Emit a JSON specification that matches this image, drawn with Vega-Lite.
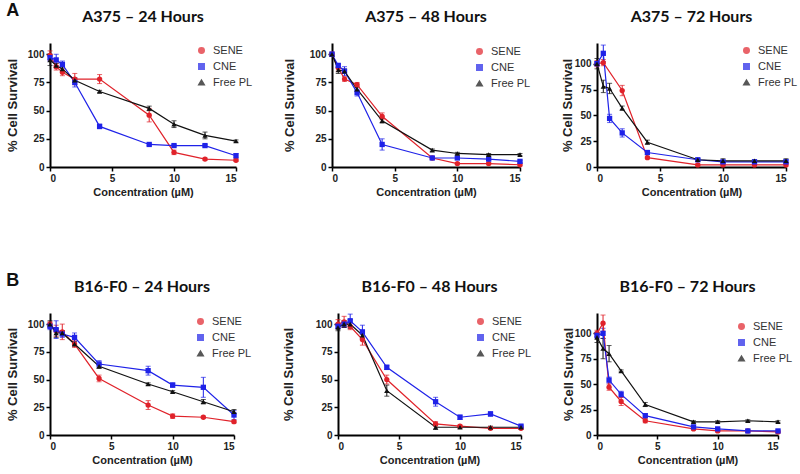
{
  "$schema": "https://vega.github.io/schema/vega-lite/v6.json",
  "padding": {"left": 6, "top": 2, "right": 2, "bottom": 2},
  "background": "white",
  "datasets": {
    "d": [
      {"p":"A24","g":"SENE","c":0,"s":99,"e":4},{"p":"A24","g":"SENE","c":0.5,"s":89,"e":3},{"p":"A24","g":"SENE","c":1,"s":84,"e":3},{"p":"A24","g":"SENE","c":2,"s":78,"e":5},{"p":"A24","g":"SENE","c":4,"s":78,"e":4},{"p":"A24","g":"SENE","c":8,"s":46,"e":6},{"p":"A24","g":"SENE","c":10,"s":13,"e":2},{"p":"A24","g":"SENE","c":12.5,"s":7,"e":1},{"p":"A24","g":"SENE","c":15,"s":6,"e":1},
      {"p":"A24","g":"CNE","c":0,"s":97,"e":3},{"p":"A24","g":"CNE","c":0.5,"s":95,"e":5},{"p":"A24","g":"CNE","c":1,"s":91,"e":3},{"p":"A24","g":"CNE","c":2,"s":75,"e":4},{"p":"A24","g":"CNE","c":4,"s":36,"e":2},{"p":"A24","g":"CNE","c":8,"s":20,"e":1},{"p":"A24","g":"CNE","c":10,"s":19,"e":1},{"p":"A24","g":"CNE","c":12.5,"s":19,"e":1},{"p":"A24","g":"CNE","c":15,"s":10,"e":2},
      {"p":"A24","g":"Free PL","c":0,"s":95,"e":5},{"p":"A24","g":"Free PL","c":0.5,"s":90,"e":2},{"p":"A24","g":"Free PL","c":1,"s":87,"e":2},{"p":"A24","g":"Free PL","c":2,"s":77,"e":2},{"p":"A24","g":"Free PL","c":4,"s":67,"e":1},{"p":"A24","g":"Free PL","c":8,"s":52,"e":2},{"p":"A24","g":"Free PL","c":10,"s":38,"e":3},{"p":"A24","g":"Free PL","c":12.5,"s":28,"e":3},{"p":"A24","g":"Free PL","c":15,"s":23,"e":1},

      {"p":"A48","g":"SENE","c":0,"s":100,"e":2},{"p":"A48","g":"SENE","c":0.5,"s":88,"e":3},{"p":"A48","g":"SENE","c":1,"s":78,"e":2},{"p":"A48","g":"SENE","c":2,"s":73,"e":2},{"p":"A48","g":"SENE","c":4,"s":45,"e":3},{"p":"A48","g":"SENE","c":8,"s":8,"e":1},{"p":"A48","g":"SENE","c":10,"s":3,"e":1},{"p":"A48","g":"SENE","c":12.5,"s":3,"e":1},{"p":"A48","g":"SENE","c":15,"s":2,"e":1},
      {"p":"A48","g":"CNE","c":0,"s":100,"e":2},{"p":"A48","g":"CNE","c":0.5,"s":90,"e":2},{"p":"A48","g":"CNE","c":1,"s":85,"e":4},{"p":"A48","g":"CNE","c":2,"s":66,"e":3},{"p":"A48","g":"CNE","c":4,"s":20,"e":5},{"p":"A48","g":"CNE","c":8,"s":8,"e":1},{"p":"A48","g":"CNE","c":10,"s":8,"e":1},{"p":"A48","g":"CNE","c":12.5,"s":7,"e":1},{"p":"A48","g":"CNE","c":15,"s":5,"e":1},
      {"p":"A48","g":"Free PL","c":0,"s":100,"e":1},{"p":"A48","g":"Free PL","c":0.5,"s":86,"e":3},{"p":"A48","g":"Free PL","c":1,"s":85,"e":2},{"p":"A48","g":"Free PL","c":2,"s":69,"e":2},{"p":"A48","g":"Free PL","c":4,"s":41,"e":2},{"p":"A48","g":"Free PL","c":8,"s":15,"e":1},{"p":"A48","g":"Free PL","c":10,"s":12,"e":1},{"p":"A48","g":"Free PL","c":12.5,"s":11,"e":1},{"p":"A48","g":"Free PL","c":15,"s":11,"e":1},

      {"p":"A72","g":"SENE","c":0,"s":100,"e":3},{"p":"A72","g":"SENE","c":0.5,"s":101,"e":3},{"p":"A72","g":"SENE","c":2,"s":74,"e":5},{"p":"A72","g":"SENE","c":4,"s":9,"e":1},{"p":"A72","g":"SENE","c":8,"s":2,"e":1},{"p":"A72","g":"SENE","c":10,"s":2,"e":1},{"p":"A72","g":"SENE","c":12.5,"s":2,"e":1},{"p":"A72","g":"SENE","c":15,"s":2,"e":1},
      {"p":"A72","g":"CNE","c":0,"s":100,"e":2},{"p":"A72","g":"CNE","c":0.5,"s":110,"e":8},{"p":"A72","g":"CNE","c":1,"s":47,"e":4},{"p":"A72","g":"CNE","c":2,"s":33,"e":4},{"p":"A72","g":"CNE","c":4,"s":14,"e":2},{"p":"A72","g":"CNE","c":8,"s":7,"e":1},{"p":"A72","g":"CNE","c":10,"s":5,"e":1},{"p":"A72","g":"CNE","c":12.5,"s":5,"e":1},{"p":"A72","g":"CNE","c":15,"s":5,"e":2},
      {"p":"A72","g":"Free PL","c":0,"s":100,"e":5},{"p":"A72","g":"Free PL","c":0.5,"s":78,"e":6},{"p":"A72","g":"Free PL","c":1,"s":76,"e":5},{"p":"A72","g":"Free PL","c":2,"s":57,"e":2},{"p":"A72","g":"Free PL","c":4,"s":24,"e":2},{"p":"A72","g":"Free PL","c":8,"s":7,"e":1},{"p":"A72","g":"Free PL","c":10,"s":6,"e":2},{"p":"A72","g":"Free PL","c":12.5,"s":6,"e":1},{"p":"A72","g":"Free PL","c":15,"s":6,"e":2},

      {"p":"B24","g":"SENE","c":0,"s":100,"e":2},{"p":"B24","g":"SENE","c":0.5,"s":94,"e":5},{"p":"B24","g":"SENE","c":1,"s":93,"e":7},{"p":"B24","g":"SENE","c":2,"s":82,"e":3},{"p":"B24","g":"SENE","c":4,"s":51,"e":3},{"p":"B24","g":"SENE","c":8,"s":27,"e":4},{"p":"B24","g":"SENE","c":10,"s":17,"e":2},{"p":"B24","g":"SENE","c":12.5,"s":16,"e":1},{"p":"B24","g":"SENE","c":15,"s":12,"e":1},
      {"p":"B24","g":"CNE","c":0,"s":98,"e":3},{"p":"B24","g":"CNE","c":0.5,"s":95,"e":8},{"p":"B24","g":"CNE","c":1,"s":91,"e":3},{"p":"B24","g":"CNE","c":2,"s":88,"e":4},{"p":"B24","g":"CNE","c":4,"s":64,"e":3},{"p":"B24","g":"CNE","c":8,"s":58,"e":4},{"p":"B24","g":"CNE","c":10,"s":45,"e":2},{"p":"B24","g":"CNE","c":12.5,"s":43,"e":9},{"p":"B24","g":"CNE","c":15,"s":18,"e":4},
      {"p":"B24","g":"Free PL","c":0,"s":100,"e":3},{"p":"B24","g":"Free PL","c":0.5,"s":92,"e":4},{"p":"B24","g":"Free PL","c":1,"s":92,"e":2},{"p":"B24","g":"Free PL","c":2,"s":82,"e":2},{"p":"B24","g":"Free PL","c":4,"s":62,"e":2},{"p":"B24","g":"Free PL","c":8,"s":46,"e":1},{"p":"B24","g":"Free PL","c":10,"s":39,"e":1},{"p":"B24","g":"Free PL","c":12.5,"s":30,"e":2},{"p":"B24","g":"Free PL","c":15,"s":21,"e":2},

      {"p":"B48","g":"SENE","c":0,"s":100,"e":4},{"p":"B48","g":"SENE","c":0.5,"s":102,"e":5},{"p":"B48","g":"SENE","c":1,"s":98,"e":3},{"p":"B48","g":"SENE","c":2,"s":86,"e":5},{"p":"B48","g":"SENE","c":4,"s":50,"e":4},{"p":"B48","g":"SENE","c":8,"s":10,"e":2},{"p":"B48","g":"SENE","c":10,"s":8,"e":1},{"p":"B48","g":"SENE","c":12.5,"s":6,"e":1},{"p":"B48","g":"SENE","c":15,"s":6,"e":1},
      {"p":"B48","g":"CNE","c":0,"s":98,"e":2},{"p":"B48","g":"CNE","c":0.5,"s":100,"e":3},{"p":"B48","g":"CNE","c":1,"s":103,"e":6},{"p":"B48","g":"CNE","c":2,"s":93,"e":6},{"p":"B48","g":"CNE","c":4,"s":61,"e":2},{"p":"B48","g":"CNE","c":8,"s":30,"e":4},{"p":"B48","g":"CNE","c":10,"s":16,"e":2},{"p":"B48","g":"CNE","c":12.5,"s":19,"e":2},{"p":"B48","g":"CNE","c":15,"s":8,"e":1},
      {"p":"B48","g":"Free PL","c":0,"s":97,"e":3},{"p":"B48","g":"Free PL","c":0.5,"s":100,"e":3},{"p":"B48","g":"Free PL","c":1,"s":100,"e":4},{"p":"B48","g":"Free PL","c":2,"s":90,"e":3},{"p":"B48","g":"Free PL","c":4,"s":40,"e":5},{"p":"B48","g":"Free PL","c":8,"s":7,"e":2},{"p":"B48","g":"Free PL","c":10,"s":7,"e":1},{"p":"B48","g":"Free PL","c":12.5,"s":7,"e":1},{"p":"B48","g":"Free PL","c":15,"s":7,"e":1},

      {"p":"B72","g":"SENE","c":0,"s":100,"e":3},{"p":"B72","g":"SENE","c":0.5,"s":110,"e":8},{"p":"B72","g":"SENE","c":1,"s":47,"e":3},{"p":"B72","g":"SENE","c":2,"s":33,"e":4},{"p":"B72","g":"SENE","c":4,"s":14,"e":2},{"p":"B72","g":"SENE","c":8,"s":6,"e":1},{"p":"B72","g":"SENE","c":10,"s":4,"e":1},{"p":"B72","g":"SENE","c":12.5,"s":4,"e":1},{"p":"B72","g":"SENE","c":15,"s":3,"e":1},
      {"p":"B72","g":"CNE","c":0,"s":98,"e":3},{"p":"B72","g":"CNE","c":0.5,"s":100,"e":5},{"p":"B72","g":"CNE","c":1,"s":54,"e":3},{"p":"B72","g":"CNE","c":2,"s":40,"e":3},{"p":"B72","g":"CNE","c":4,"s":19,"e":2},{"p":"B72","g":"CNE","c":8,"s":8,"e":1},{"p":"B72","g":"CNE","c":10,"s":6,"e":1},{"p":"B72","g":"CNE","c":12.5,"s":4,"e":1},{"p":"B72","g":"CNE","c":15,"s":4,"e":1},
      {"p":"B72","g":"Free PL","c":0,"s":96,"e":5},{"p":"B72","g":"Free PL","c":0.5,"s":85,"e":10},{"p":"B72","g":"Free PL","c":1,"s":80,"e":8},{"p":"B72","g":"Free PL","c":2,"s":63,"e":1},{"p":"B72","g":"Free PL","c":4,"s":30,"e":2},{"p":"B72","g":"Free PL","c":8,"s":13,"e":1},{"p":"B72","g":"Free PL","c":10,"s":13,"e":1},{"p":"B72","g":"Free PL","c":12.5,"s":14,"e":1},{"p":"B72","g":"Free PL","c":15,"s":13,"e":1}
    ]
  },
  "config": {
    "view": {"stroke": null},
    "axis": {"grid": false, "domainColor": "#000", "domainWidth": 2, "tickColor": "#000", "tickWidth": 1.5, "tickSize": 4, "labelFont": "Liberation Sans", "labelFontWeight": "bold", "labelFontSize": 10, "labelColor": "#222", "labelPadding": 2, "titleFont": "Liberation Sans", "titleFontWeight": "bold", "titleColor": "#222"},
    "axisY": {"titleFontSize": 13, "titlePadding": 8},
    "axisX": {"titleFontSize": 11, "titlePadding": 3},
    "title": {"font": "Lato", "fontSize": 16, "fontWeight": "bold", "color": "#111", "offset": 18},
    "legend": {"orient": "none", "labelFont": "Liberation Sans", "labelFontSize": 11, "labelColor": "#333", "symbolSize": 30, "rowPadding": 3, "padding": 0, "labelOffset": 6}
  },
  "vconcat": [
    {
      "title": {"text": "A", "anchor": "start", "fontSize": 18, "font": "Liberation Sans", "offset": -11},
      "spacing": 30,
      "resolve": {"scale": {"x": "independent", "y": "independent", "color": "independent", "shape": "independent"}, "legend": {"color": "independent", "shape": "independent"}},
      "hconcat": [
        {
          "title": "A375 – 24 Hours", "width": 186, "height": 124,
          "data": {"name": "d"}, "transform": [{"filter": "datum.p == 'A24'"}],
          "encoding": {
            "x": {"field": "c", "type": "quantitative", "scale": {"domain": [0, 15], "nice": false}, "axis": {"values": [0, 5, 10, 15], "title": "Concentration (µM)"}},
            "y": {"field": "s", "type": "quantitative", "scale": {"domain": [0, 110], "nice": false}, "axis": {"values": [0, 25, 50, 75, 100], "title": "% Cell Survival"}},
            "color": {"field": "g", "type": "nominal", "scale": {"domain": ["SENE", "CNE", "Free PL"], "range": ["#e0222a", "#1f22e8", "#111111"]}, "legend": {"title": null, "legendX": 146, "legendY": 2}}
          },
          "layer": [
            {"mark": {"type": "errorbar", "ticks": true, "thickness": 1}, "encoding": {"yError": {"field": "e"}}},
            {"mark": {"type": "line", "strokeWidth": 1.2, "clip": false, "point": {"filled": true, "size": 28}}, "encoding": {"shape": {"field": "g", "type": "nominal", "scale": {"domain": ["SENE", "CNE", "Free PL"], "range": ["circle", "square", "triangle-up"]}, "legend": null}}}
          ]
        },
        {
          "title": "A375 – 48 Hours", "width": 188, "height": 124,
          "data": {"name": "d"}, "transform": [{"filter": "datum.p == 'A48'"}],
          "encoding": {
            "x": {"field": "c", "type": "quantitative", "scale": {"domain": [0, 15], "nice": false}, "axis": {"values": [0, 5, 10, 15], "title": "Concentration (µM)"}},
            "y": {"field": "s", "type": "quantitative", "scale": {"domain": [0, 110], "nice": false}, "axis": {"values": [0, 25, 50, 75, 100], "title": "% Cell Survival", "titlePadding": 13}},
            "color": {"field": "g", "type": "nominal", "scale": {"domain": ["SENE", "CNE", "Free PL"], "range": ["#e0222a", "#1f22e8", "#111111"]}, "legend": {"title": null, "legendX": 142, "legendY": 3}}
          },
          "layer": [
            {"mark": {"type": "errorbar", "ticks": true, "thickness": 1}, "encoding": {"yError": {"field": "e"}}},
            {"mark": {"type": "line", "strokeWidth": 1.2, "clip": false, "point": {"filled": true, "size": 28}}, "encoding": {"shape": {"field": "g", "type": "nominal", "scale": {"domain": ["SENE", "CNE", "Free PL"], "range": ["circle", "square", "triangle-up"]}, "legend": null}}}
          ]
        },
        {
          "title": "A375 – 72 Hours", "width": 189, "height": 124,
          "data": {"name": "d"}, "transform": [{"filter": "datum.p == 'A72'"}],
          "encoding": {
            "x": {"field": "c", "type": "quantitative", "scale": {"domain": [0, 15], "nice": false}, "axis": {"values": [0, 5, 10, 15], "title": "Concentration (µM)"}},
            "y": {"field": "s", "type": "quantitative", "scale": {"domain": [0, 120], "nice": false}, "axis": {"values": [0, 25, 50, 75, 100], "title": "% Cell Survival", "titlePadding": 0}},
            "color": {"field": "g", "type": "nominal", "scale": {"domain": ["SENE", "CNE", "Free PL"], "range": ["#e0222a", "#1f22e8", "#111111"]}, "legend": {"title": null, "legendX": 144, "legendY": 2}}
          },
          "layer": [
            {"mark": {"type": "errorbar", "ticks": true, "thickness": 1}, "encoding": {"yError": {"field": "e"}}},
            {"mark": {"type": "line", "strokeWidth": 1.2, "clip": false, "point": {"filled": true, "size": 28}}, "encoding": {"shape": {"field": "g", "type": "nominal", "scale": {"domain": ["SENE", "CNE", "Free PL"], "range": ["circle", "square", "triangle-up"]}, "legend": null}}}
          ]
        }
      ]
    },
    {
      "title": {"text": "B", "anchor": "start", "fontSize": 18, "font": "Liberation Sans", "offset": -11},
      "spacing": 30,
      "resolve": {"scale": {"x": "independent", "y": "independent", "color": "independent", "shape": "independent"}, "legend": {"color": "independent", "shape": "independent"}},
      "hconcat": [
        {
          "title": "B16-F0 – 24 Hours", "width": 184, "height": 122,
          "data": {"name": "d"}, "transform": [{"filter": "datum.p == 'B24'"}],
          "encoding": {
            "x": {"field": "c", "type": "quantitative", "scale": {"domain": [0, 15], "nice": false}, "axis": {"values": [0, 5, 10, 15], "title": "Concentration (µM)"}},
            "y": {"field": "s", "type": "quantitative", "scale": {"domain": [0, 110], "nice": false}, "axis": {"values": [0, 25, 50, 75, 100], "title": "% Cell Survival"}},
            "color": {"field": "g", "type": "nominal", "scale": {"domain": ["SENE", "CNE", "Free PL"], "range": ["#e0222a", "#1f22e8", "#111111"]}, "legend": {"title": null, "legendX": 145, "legendY": 3}}
          },
          "layer": [
            {"mark": {"type": "errorbar", "ticks": true, "thickness": 1}, "encoding": {"yError": {"field": "e"}}},
            {"mark": {"type": "line", "strokeWidth": 1.2, "clip": false, "point": {"filled": true, "size": 28}}, "encoding": {"shape": {"field": "g", "type": "nominal", "scale": {"domain": ["SENE", "CNE", "Free PL"], "range": ["circle", "square", "triangle-up"]}, "legend": null}}}
          ]
        },
        {
          "title": "B16-F0 – 48 Hours", "width": 183, "height": 122,
          "data": {"name": "d"}, "transform": [{"filter": "datum.p == 'B48'"}],
          "encoding": {
            "x": {"field": "c", "type": "quantitative", "scale": {"domain": [0, 15], "nice": false}, "axis": {"values": [0, 5, 10, 15], "title": "Concentration (µM)"}},
            "y": {"field": "s", "type": "quantitative", "scale": {"domain": [0, 110], "nice": false}, "axis": {"values": [0, 25, 50, 75, 100], "title": "% Cell Survival", "titlePadding": 20}},
            "color": {"field": "g", "type": "nominal", "scale": {"domain": ["SENE", "CNE", "Free PL"], "range": ["#e0222a", "#1f22e8", "#111111"]}, "legend": {"title": null, "legendX": 137, "legendY": 3}}
          },
          "layer": [
            {"mark": {"type": "errorbar", "ticks": true, "thickness": 1}, "encoding": {"yError": {"field": "e"}}},
            {"mark": {"type": "line", "strokeWidth": 1.2, "clip": false, "point": {"filled": true, "size": 28}}, "encoding": {"shape": {"field": "g", "type": "nominal", "scale": {"domain": ["SENE", "CNE", "Free PL"], "range": ["circle", "square", "triangle-up"]}, "legend": null}}}
          ]
        },
        {
          "title": "B16-F0 – 72 Hours", "width": 181, "height": 122,
          "data": {"name": "d"}, "transform": [{"filter": "datum.p == 'B72'"}],
          "encoding": {
            "x": {"field": "c", "type": "quantitative", "scale": {"domain": [0, 15], "nice": false}, "axis": {"values": [0, 5, 10, 15], "title": "Concentration (µM)"}},
            "y": {"field": "s", "type": "quantitative", "scale": {"domain": [0, 120], "nice": false}, "axis": {"values": [0, 25, 50, 75, 100], "title": "% Cell Survival", "titlePadding": -1}},
            "color": {"field": "g", "type": "nominal", "scale": {"domain": ["SENE", "CNE", "Free PL"], "range": ["#e0222a", "#1f22e8", "#111111"]}, "legend": {"title": null, "legendX": 139, "legendY": 8}}
          },
          "layer": [
            {"mark": {"type": "errorbar", "ticks": true, "thickness": 1}, "encoding": {"yError": {"field": "e"}}},
            {"mark": {"type": "line", "strokeWidth": 1.2, "clip": false, "point": {"filled": true, "size": 28}}, "encoding": {"shape": {"field": "g", "type": "nominal", "scale": {"domain": ["SENE", "CNE", "Free PL"], "range": ["circle", "square", "triangle-up"]}, "legend": null}}}
          ]
        }
      ]
    }
  ],
  "spacing": 75
}
